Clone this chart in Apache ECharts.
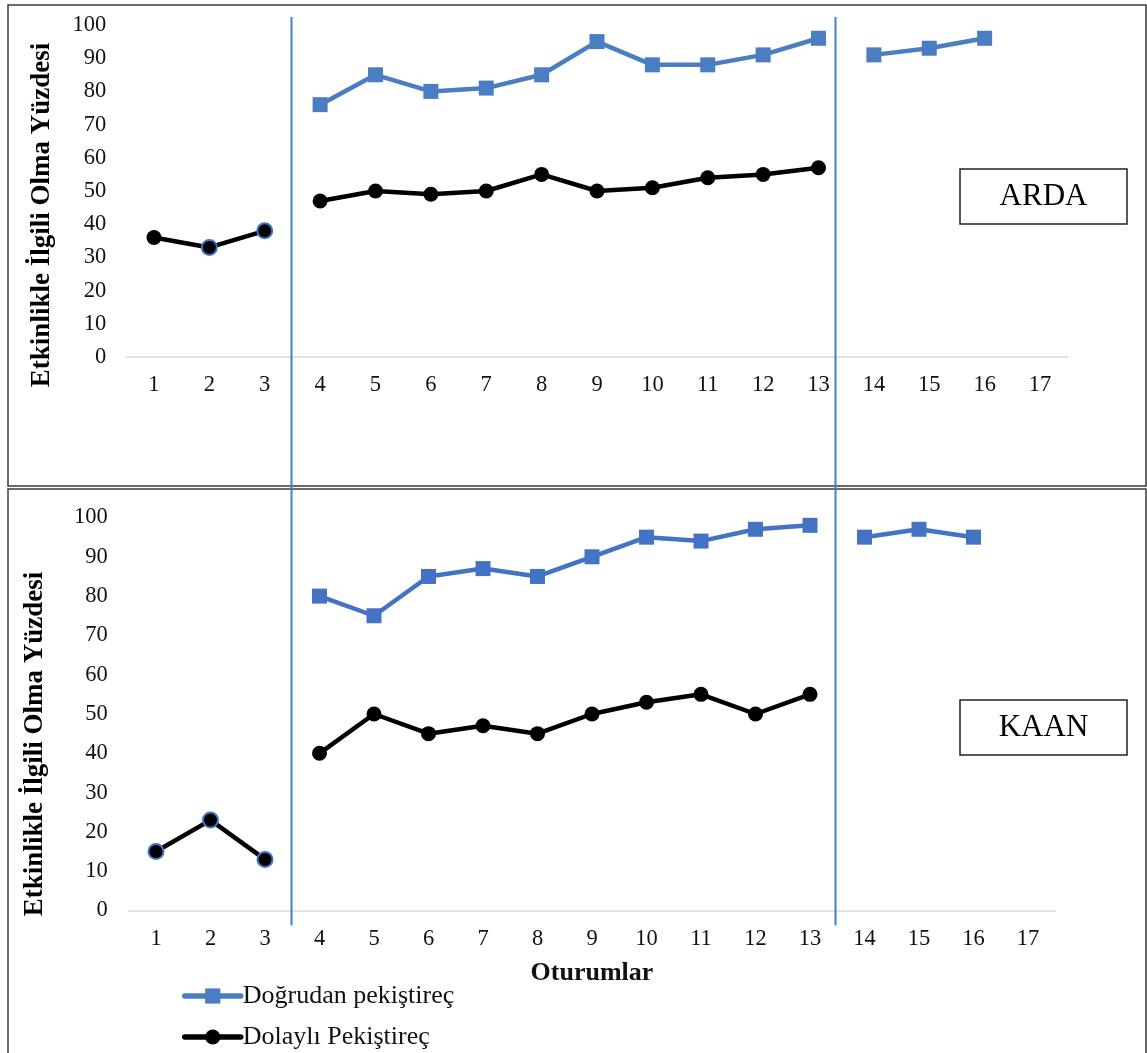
<!DOCTYPE html>
<html>
<head>
<meta charset="utf-8">
<script src="https://cdn.jsdelivr.net/npm/echarts@6/dist/echarts.min.js"></script>
<style>
html,body{margin:0;padding:0;background:#fff;}
#c{width:1147px;height:1053px;}
</style>
</head>
<body>
<div id="c"></div>
<script>
// ---------- data ----------
const sessions = ['1','2','3','4','5','6','7','8','9','10','11','12','13','14','15','16','17'];
const yTicks = [0,10,20,30,40,50,60,70,80,90,100];
const seriesNames = ['Doğrudan pekiştireç', 'Dolaylı Pekiştireç'];
const studentNames = ['ARDA', 'KAAN'];
// phases: A = sessions 1-3, B = 4-13, C = 14-17 (index ranges)
const phases = [[0,2],[3,12],[13,16]];

const ardaDirect   = [null,null,null,76,85,80,81,85,95,88,88,91,96,91,93,96,null];
const ardaIndirect = [36,33,38,47,50,49,50,55,50,51,54,55,57,null,null,null,null];
const kaanDirect   = [null,null,null,80,75,85,87,85,90,95,94,97,98,95,97,95,null];
const kaanIndirect = [15,23,13,40,50,45,47,45,50,53,55,50,55,null,null,null,null];

const axisTitleY = 'Etkinlikle İlgili Olma Yüzdesi';
const axisTitleX = 'Oturumlar';

// ---------- chart ----------
const FONT = '"Liberation Serif", "Times New Roman", serif';
const chart = echarts.init(document.getElementById('c'), null, {renderer:'canvas'});

const grids = [
  {left:126.3, top:25, width:941.4, height:332},
  {left:128.75, top:517.5, width:926.5, height:393}
];
const blues = ['#4a7dc1', '#4472C4'];
const rimmed = [[1,2],[0,1,2]]; // points drawn with a blue rim (as in the reference)

function phaseData(values, ph, rimIdx, rimColor) {
  return values.map((v,i) => {
    if (i < ph[0] || i > ph[1] || v == null) return null;
    if (rimIdx && rimIdx.indexOf(i) >= 0) {
      return {value:v, itemStyle:{borderColor:rimColor, borderWidth:2}};
    }
    return v;
  });
}

const allData = [[ardaDirect, ardaIndirect],[kaanDirect, kaanIndirect]];
const series = [];
allData.forEach((pair, gi) => {
  pair.forEach((vals, si) => {
    phases.forEach(ph => {
      const slice = vals.slice(ph[0], ph[1]+1);
      if (!slice.some(v => v != null)) return;
      const isDirect = si === 0;
      const color = isDirect ? blues[gi] : '#000000';
      series.push({
        name: seriesNames[si],
        type: 'line',
        xAxisIndex: gi,
        yAxisIndex: gi,
        data: phaseData(vals, ph, isDirect ? null : rimmed[gi], blues[1]),
        connectNulls: false,
        symbol: isDirect ? 'rect' : 'circle',
        symbolSize: 15,
        showSymbol: true,
        lineStyle: {color: color, width: 4.5},
        itemStyle: {color: color},
        z: isDirect ? 3 : 4,
        animation: false,
        emphasis: {disabled: true}
      });
    });
  });
});

const xAxes = grids.map((g, gi) => ({
  type: 'category',
  gridIndex: gi,
  data: sessions,
  boundaryGap: true,
  axisLine: {show: true, lineStyle: {color: '#d9d9d9', width: 1.5}},
  axisTick: {show: false},
  splitLine: {show: false},
  axisLabel: {color: '#111', fontFamily: FONT, fontSize: 22.5, margin: 17, interval: 0},
  name: gi === 1 ? axisTitleX : '',
  nameLocation: 'middle',
  nameGap: 50,
  nameTextStyle: {color: '#111', fontFamily: FONT, fontSize: 26, fontWeight: 'bold'}
}));
const yAxes = grids.map((g, gi) => ({
  type: 'value',
  gridIndex: gi,
  min: yTicks[0],
  max: yTicks[yTicks.length-1],
  interval: yTicks[1]-yTicks[0],
  axisLine: {show: false},
  axisTick: {show: false},
  splitLine: {show: false},
  axisLabel: {color: '#111', fontFamily: FONT, fontSize: 22.5, margin: gi === 0 ? 20 : 21}
}));

chart.setOption({
  animation: false,
  backgroundColor: '#ffffff',
  grid: grids.map(g => Object.assign({containLabel:false}, g)),
  xAxis: xAxes,
  yAxis: yAxes,
  legend: {
    data: seriesNames,
    orient: 'vertical',
    left: 182,
    top: 983,
    padding: 0,
    height: 70,
    itemWidth: 56,
    itemHeight: 19,
    itemGap: 15,
    lineStyle: {width: 5.5, cap: 'round'},
    textStyle: {color: '#111', fontFamily: FONT, fontSize: 26, padding: [0,0,0,-3]},
    selectedMode: false
  },
  series: series
});

// ---------- annotations (frames, phase lines, titles, name boxes) ----------
const xA = chart.convertToPixel({xAxisIndex: 1}, sessions[2]);
const xB = chart.convertToPixel({xAxisIndex: 1}, sessions[3]);
const xC = chart.convertToPixel({xAxisIndex: 1}, sessions[12]);
const xD = chart.convertToPixel({xAxisIndex: 1}, sessions[13]);
const yTop = chart.convertToPixel({yAxisIndex: 0}, 100) - 8;
const yBot = chart.convertToPixel({yAxisIndex: 1}, 0) + 15;
const phaseLineXs = [Math.round((xA + xB) / 2) - 0.5, Math.round((xC + xD) / 2) - 1.5];

const gr = [];
// frames
gr.push({type:'rect', shape:{x:8, y:5, width:1138, height:481}, style:{fill:'none', stroke:'#3a3a3a', lineWidth:1.5}, z:1});
gr.push({type:'rect', shape:{x:8, y:489, width:1138, height:600}, style:{fill:'none', stroke:'#3a3a3a', lineWidth:1.5}, z:1});
// phase change lines
phaseLineXs.forEach(x => {
  gr.push({type:'line', shape:{x1:x, y1:yTop, x2:x, y2:yBot}, style:{stroke:'#4a7ebb', lineWidth:2}, z:2});
});
// y axis titles
const yTitlePos = [[42, 215], [35, 744]];
yTitlePos.forEach(p => {
  gr.push({type:'text', x:p[0], y:p[1], rotation: Math.PI/2, z:5,
    style:{text: axisTitleY, fill:'#000', fontFamily: FONT, fontSize: 27, fontWeight:'bold',
      align:'center', verticalAlign:'middle', textAlign:'center', textVerticalAlign:'middle'}});
});
// student name boxes
const boxes = [[960, 169], [960, 700]];
boxes.forEach((b, i) => {
  gr.push({type:'rect', shape:{x:b[0], y:b[1], width:167, height:55}, style:{fill:'#fff', stroke:'#222', lineWidth:1.5}, z:5});
  gr.push({type:'text', x:b[0] + 83.5, y:b[1] + 28, z:6,
    style:{text: studentNames[i], fill:'#000', fontFamily: FONT, fontSize: 31,
      align:'center', verticalAlign:'middle', textAlign:'center', textVerticalAlign:'middle'}});
});

chart.setOption({graphic: gr});
</script>
</body>
</html>
